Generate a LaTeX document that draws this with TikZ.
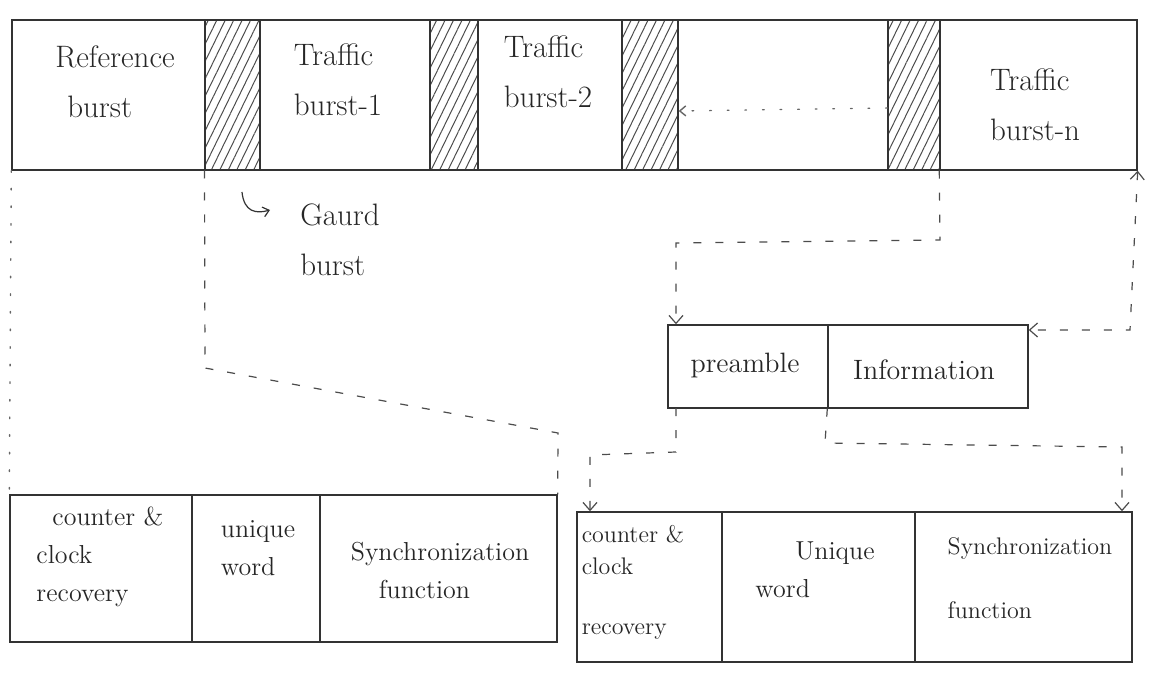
\documentclass[tikz,border=0pt]{standalone}
\usetikzlibrary{arrows.meta,patterns.meta,fit}
\begin{document}
\begin{tikzpicture}[x=0.5pt,y=-0.5pt,
  ink/.style={draw=black!80, line width=0.7pt},
  cellbox/.style={ink, rectangle, inner sep=0pt},
  guardbox/.style={cellbox, pattern={Lines[angle=64,distance=3.8pt,line width=0.5pt]}, pattern color=black!70},
  lbl/.style={font=\fontsize{15.5}{25}\selectfont, align=left, text=black!85},
  slbl/.style={font=\fontsize{13}{19}\selectfont, align=left, text=black!85},
  mlbl/.style={font=\fontsize{14}{19}\selectfont, align=left, text=black!85},
  rlbl/.style={font=\fontsize{12}{16}\selectfont, align=left, text=black!85},
  conn/.style={draw=black!70, line width=0.6pt, dash pattern=on 4pt off 7pt},
  dotc/.style={draw=black!60, line width=0.7pt, dash pattern=on 0.8pt off 8pt, line cap=round},
  tip/.style={-{Straight Barb[length=4pt,width=7pt]}}
]
\useasboundingbox (0,0) rectangle (1153,690);

% ---- top frame ----
\node[cellbox, fit={(12,20)(205,170)}] (ref) {};
\node[guardbox, fit={(205,20)(260,170)}] (g1) {};
\node[cellbox, fit={(260,20)(430,170)}] (tb1) {};
\node[guardbox, fit={(430,20)(478,170)}] (g2) {};
\node[cellbox, fit={(478,20)(622,170)}] (tb2) {};
\node[guardbox, fit={(622,20)(678,170)}] (g3) {};
\node[cellbox, fit={(678,20)(888,170)}] (gap) {};
\node[guardbox, fit={(888,20)(940,170)}] (g4) {};
\node[cellbox, fit={(940,20)(1137,170)}] (tbn) {};

\node[lbl] (refT) at (115,82) {Reference\\\hspace*{6pt}burst};
\node[lbl] (tb1T) at (338,80) {Traffic\\burst-1};
\node[lbl] (tb2T) at (548,72) {Traffic\\burst-2};
\node[lbl] (tbnT) at (1035,105) {Traffic\\burst-n};

\draw[dotc, -{Straight Barb[length=3pt,width=5pt]}] ([yshift=-6.5pt]g4.west) -- ([yshift=-8pt]g3.east);

% guard label
\coordinate (h1) at (242,192);
\coordinate (h2) at (270,210);
\draw[ink, line width=0.6pt, -{Straight Barb[length=3pt,width=5pt]}] (h1) .. controls (244,212) and (256,214) .. (h2);
\node[lbl] (gT) at (340,240) {Gaurd\\burst};

% ---- preamble / information ----
\node[cellbox, fit={(668,325)(828,408)}] (pre) {};
\node[cellbox, fit={(828,325)(1028,408)}] (info) {};
\node[mlbl] (preT) at (745,365) {preamble};
\node[mlbl] (infoT) at (924,370) {Information};

% ---- lower left ----
\node[cellbox, fit={(10,495)(192,642)}] (ll1) {};
\node[cellbox, fit={(192,495)(320,642)}] (ll2) {};
\node[cellbox, fit={(320,495)(557,642)}] (ll3) {};
\node[slbl] (ll1T) at (100,557) {\hspace*{8pt}counter \&\\clock\\recovery};
\node[slbl] (ll2T) at (258,548) {unique\\word};
\node[slbl] (ll3T) at (440,570) {Synchronization\\\hspace*{14pt}function};

% ---- lower right ----
\node[cellbox, fit={(577,512)(722,662)}] (lr1) {};
\node[cellbox, fit={(722,512)(915,662)}] (lr2) {};
\node[cellbox, fit={(915,512)(1132,662)}] (lr3) {};
\node[rlbl] (lr1T) at (633,582) {counter \&\\clock\\[14pt]recovery};
\node[slbl] (lr2T) at (815,570) {\hspace*{20pt}Unique\\word};
\node[rlbl] (lr3T) at (1030,578) {Synchronization\\[16pt]function};

% ---- connectors ----
\draw[dotc] (ref.south west) -- (ll1.north west);

\coordinate (b1) at (205,368);
\coordinate (b2) at (558,433);
\draw[conn] (g1.south west) -- (b1) -- (b2) -- (ll3.north east);

\coordinate (c1) at (940,240);
\coordinate (c2) at (676,243);
\draw[conn, tip] (tbn.south west) -- (c1) -- (c2) -- (c2 |- pre.north);

\coordinate (d1) at (1130,330);
\draw[conn, {Straight Barb[length=4pt,width=7pt]}-{Straight Barb[length=4pt,width=7pt]}] (tbn.south east) -- (d1) -- (info.east |- d1);

\coordinate (e0) at (676,408);
\coordinate (e1) at (676,452);
\coordinate (e2) at (590,455);
\draw[conn, tip] (e0) -- (e1) -- (e2) -- (e2 |- lr1.north);

\coordinate (f1) at (825,443);
\coordinate (f2) at (1122,447);
\draw[conn, tip] (info.south west) -- (f1) -- (f2) -- (f2 |- lr3.north);
\end{tikzpicture}
\end{document}
